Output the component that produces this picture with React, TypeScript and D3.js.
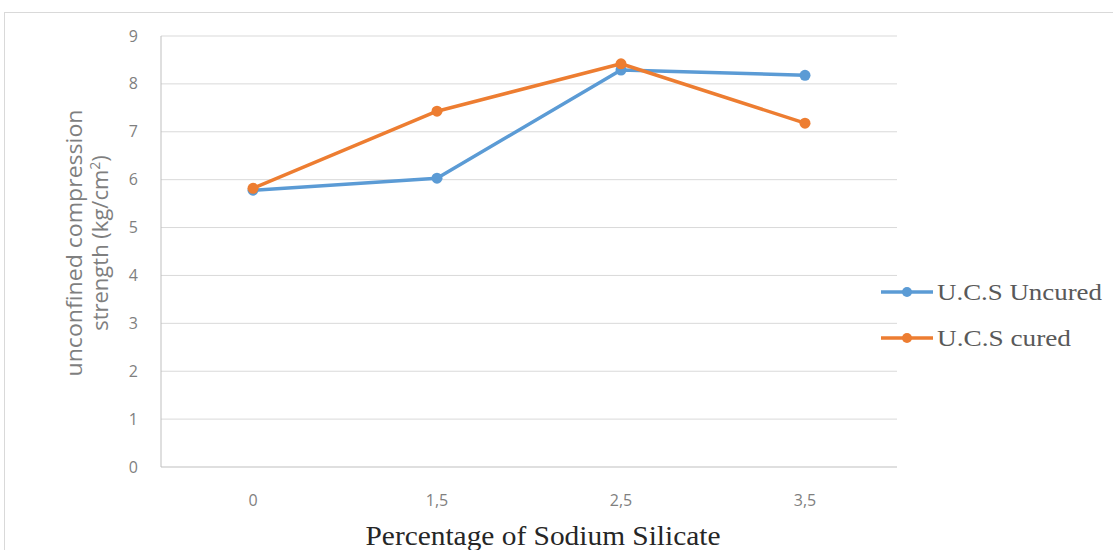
import React from "react";
import * as d3 from "d3";

const categories = ["0", "1,5", "2,5", "3,5"];
const uncured = [5.78, 6.03, 8.29, 8.18];
const cured = [5.82, 7.43, 8.42, 7.18];
const yTicks = [0, 1, 2, 3, 4, 5, 6, 7, 8, 9];
const seriesNames = ["U.C.S Uncured", "U.C.S cured"];
const seriesColors = ["#5b9bd5", "#ed7d31"];

const W = 1113;
const H = 550;
const plot = { left: 161, right: 897, top: 36, bottom: 467 };
const legendWidths = [165, 134];

export default function App() {
  const x = d3
    .scaleBand<string>()
    .domain(categories)
    .range([plot.left, plot.right]);
  const y = d3.scaleLinear().domain([0, 9]).range([plot.bottom, plot.top]);
  const cx = (c: string) => (x(c) ?? 0) + x.bandwidth() / 2;

  const line = d3
    .line<number>()
    .x((_, i) => cx(categories[i]))
    .y((d) => y(d));

  const series = [uncured, cured];
  const legendY = [292, 338];

  return (
    <svg
      width={W}
      height={H}
      style={{ position: "absolute", left: 0, top: 0, background: "#fff" }}
    >
      <rect x={4.5} y={12.5} width={W + 10} height={H} fill="#fff" stroke="#d9d9d9" />
      {yTicks.map((t) => (
        <g key={t}>
          {t > 0 && (
            <line
              x1={plot.left}
              x2={plot.right}
              y1={y(t)}
              y2={y(t)}
              stroke="#d9d9d9"
              strokeWidth={1}
            />
          )}
          <text
            x={138}
            y={y(t)}
            dy="0.35em"
            textAnchor="end"
            fontFamily="'Open Sans', sans-serif"
            fontSize={16}
            fill="#7f7f7f"
          >
            {t}
          </text>
        </g>
      ))}
      <line x1={plot.left} x2={plot.left} y1={plot.top} y2={plot.bottom} stroke="#bfbfbf" />
      <line x1={plot.left} x2={plot.right} y1={plot.bottom} y2={plot.bottom} stroke="#bfbfbf" />
      {categories.map((c) => (
        <text
          key={c}
          x={cx(c)}
          y={506}
          textAnchor="middle"
          fontFamily="'Open Sans', sans-serif"
          fontSize={16}
          fill="#7f7f7f"
        >
          {c}
        </text>
      ))}
      <text
        x={543}
        y={545}
        textAnchor="middle"
        fontFamily="'Liberation Serif', 'Times New Roman', serif"
        fontSize={27}
        textLength={355}
        lengthAdjust="spacingAndGlyphs"
        fill="#262626"
      >
        Percentage of Sodium Silicate
      </text>
      <g transform="translate(0,243) rotate(-90)">
        <text
          x={0}
          y={82}
          textAnchor="middle"
          fontFamily="'Open Sans', sans-serif"
          fontSize={22}
          textLength={267}
          lengthAdjust="spacingAndGlyphs"
          fill="#7f7f7f"
        >
          unconfined compression
        </text>
        <text
          x={0}
          y={108}
          textAnchor="middle"
          fontFamily="'Open Sans', sans-serif"
          fontSize={22}
          fill="#7f7f7f"
        >
          strength (kg/cm<tspan dy={-8} fontSize={14}>2</tspan>
          <tspan dy={8}>)</tspan>
        </text>
      </g>
      {series.map((s, si) => (
        <g key={si}>
          <path
            d={line(s) ?? ""}
            fill="none"
            stroke={seriesColors[si]}
            strokeWidth={3.5}
            strokeLinejoin="round"
            strokeLinecap="round"
          />
          {s.map((v, i) => (
            <circle key={i} cx={cx(categories[i])} cy={y(v)} r={5.5} fill={seriesColors[si]} />
          ))}
        </g>
      ))}
      {seriesNames.map((n, i) => (
        <g key={n}>
          <line
            x1={881}
            x2={933}
            y1={legendY[i]}
            y2={legendY[i]}
            stroke={seriesColors[i]}
            strokeWidth={3.5}
          />
          <circle cx={907} cy={legendY[i]} r={5} fill={seriesColors[i]} />
          <text
            x={937}
            y={legendY[i]}
            dy="0.33em"
            fontFamily="'Liberation Serif', 'Times New Roman', serif"
            fontSize={23}
            textLength={legendWidths[i]}
            lengthAdjust="spacingAndGlyphs"
            fill="#595959"
          >
            {n}
          </text>
        </g>
      ))}
    </svg>
  );
}
